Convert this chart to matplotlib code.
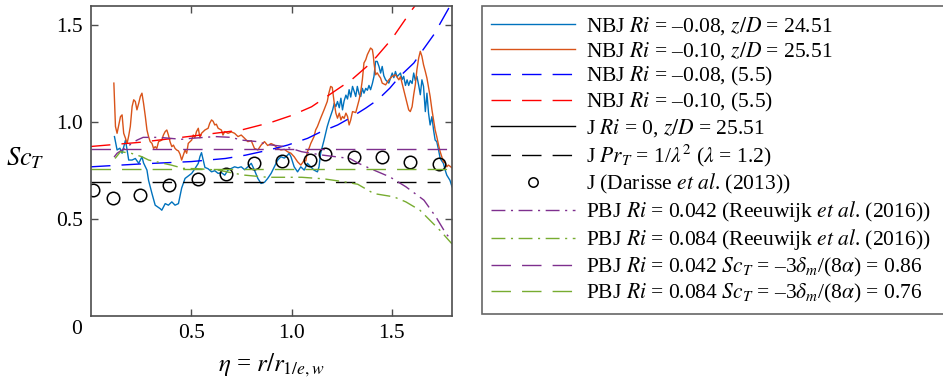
import matplotlib
matplotlib.use('Agg')
import matplotlib.pyplot as plt

plt.rcParams['font.family'] = ['Liberation Serif', 'DejaVu Serif']
plt.rcParams['mathtext.fontset'] = 'stix'

# NBJ Ri = -0.08, z/D = 24.51 (blue solid)
eta_nbj08 = [0.117, 0.130, 0.144, 0.155, 0.172, 0.188, 0.205, 0.221, 0.238, 0.254, 0.262, 0.279,
             0.287, 0.304, 0.320, 0.345, 0.353, 0.370, 0.386, 0.403, 0.419, 0.436, 0.452, 0.469,
             0.502, 0.518, 0.535, 0.543, 0.551, 0.568, 0.584, 0.601, 0.617, 0.634, 0.650, 0.667,
             0.683, 0.700, 0.716, 0.733, 0.749, 0.766, 0.782, 0.799, 0.815, 0.832, 0.848, 0.865,
             0.881, 0.898, 0.914, 0.931, 0.947, 0.964, 0.980, 0.988, 0.997, 1.013, 1.030, 1.046,
             1.063, 1.079, 1.096, 1.112, 1.129, 1.137, 1.145, 1.162, 1.178, 1.188, 1.205, 1.213,
             1.221, 1.229, 1.238, 1.246, 1.254, 1.262, 1.271, 1.279, 1.287, 1.295, 1.304, 1.312,
             1.320, 1.328, 1.337, 1.345, 1.353, 1.361, 1.370, 1.378, 1.386, 1.394, 1.403, 1.411,
             1.419, 1.427, 1.436, 1.444, 1.452, 1.460, 1.469, 1.485, 1.502, 1.510, 1.518, 1.526,
             1.543, 1.551, 1.559, 1.568, 1.576, 1.584, 1.592, 1.601, 1.609, 1.617, 1.625, 1.634,
             1.642, 1.650, 1.658, 1.667, 1.675, 1.683, 1.691, 1.700, 1.708, 1.716, 1.724, 1.733,
             1.741, 1.757, 1.766, 1.774, 1.790, 1.800]
sct_nbj08 = [0.926, 0.857, 0.866, 0.840, 0.908, 0.805, 0.805, 0.813, 0.788, 0.822, 0.790, 0.753,
             0.700, 0.632, 0.572, 0.554, 0.546, 0.580, 0.572, 0.589, 0.572, 0.580, 0.660, 0.710,
             0.736, 0.760, 0.788, 0.822, 0.843, 0.767, 0.760, 0.744, 0.750, 0.736, 0.740, 0.727,
             0.753, 0.762, 0.770, 0.765, 0.770, 0.755, 0.770, 0.788, 0.753, 0.710, 0.684, 0.690,
             0.710, 0.736, 0.770, 0.805, 0.822, 0.815, 0.830, 0.840, 0.822, 0.770, 0.744, 0.770,
             0.753, 0.788, 0.770, 0.753, 0.744, 0.770, 0.840, 0.908, 0.978, 1.012, 1.064, 1.098,
             1.081, 1.107, 1.075, 1.124, 1.064, 1.110, 1.140, 1.120, 1.168, 1.130, 1.185, 1.160,
             1.133, 1.185, 1.145, 1.133, 1.175, 1.150, 1.175, 1.165, 1.190, 1.168, 1.200, 1.237,
             1.314, 1.314, 1.288, 1.254, 1.288, 1.240, 1.219, 1.202, 1.254, 1.230, 1.262, 1.235,
             1.254, 1.220, 1.237, 1.190, 1.219, 1.190, 1.215, 1.200, 1.254, 1.215, 1.237, 1.190,
             1.142, 1.219, 1.185, 1.055, 1.150, 1.047, 0.986, 1.029, 0.960, 0.908, 0.900, 0.857,
             0.813, 0.788, 0.753, 0.727, 0.700, 0.667]

# NBJ Ri = -0.10, z/D = 25.51 (orange solid)
eta_nbj10 = [0.114, 0.122, 0.130, 0.139, 0.147, 0.155, 0.163, 0.172, 0.180, 0.188, 0.196, 0.205,
             0.213, 0.221, 0.229, 0.238, 0.246, 0.254, 0.262, 0.271, 0.279, 0.287, 0.295, 0.304,
             0.312, 0.320, 0.328, 0.337, 0.353, 0.361, 0.370, 0.378, 0.386, 0.394, 0.403, 0.411,
             0.419, 0.427, 0.436, 0.444, 0.452, 0.460, 0.469, 0.477, 0.485, 0.502, 0.510, 0.518,
             0.526, 0.535, 0.543, 0.551, 0.568, 0.584, 0.592, 0.601, 0.609, 0.617, 0.625, 0.634,
             0.650, 0.658, 0.667, 0.683, 0.700, 0.716, 0.733, 0.749, 0.766, 0.782, 0.799, 0.815,
             0.832, 0.848, 0.865, 0.881, 0.898, 0.914, 0.931, 0.947, 0.964, 0.980, 0.997, 1.013,
             1.030, 1.046, 1.054, 1.063, 1.071, 1.079, 1.087, 1.096, 1.112, 1.120, 1.129, 1.145,
             1.162, 1.178, 1.186, 1.195, 1.203, 1.213, 1.221, 1.229, 1.238, 1.246, 1.254, 1.262,
             1.271, 1.279, 1.287, 1.295, 1.304, 1.320, 1.328, 1.337, 1.345, 1.353, 1.361, 1.370,
             1.378, 1.394, 1.403, 1.408, 1.411, 1.419, 1.427, 1.436, 1.444, 1.452, 1.469, 1.485,
             1.502, 1.518, 1.535, 1.543, 1.551, 1.559, 1.576, 1.584, 1.592, 1.601, 1.609, 1.617,
             1.625, 1.634, 1.642, 1.650, 1.658, 1.667, 1.675, 1.683, 1.691, 1.700, 1.708, 1.716,
             1.724, 1.733, 1.741, 1.749, 1.757, 1.766, 1.774, 1.782, 1.800]
sct_nbj10 = [1.202, 0.978, 0.943, 0.990, 1.029, 1.038, 0.943, 0.917, 0.891, 0.930, 0.978, 1.081,
             1.116, 1.107, 1.064, 1.098, 1.133, 1.150, 1.098, 1.029, 0.960, 0.926, 0.900, 0.891,
             0.865, 0.874, 0.865, 0.900, 0.908, 0.934, 0.952, 0.960, 0.934, 0.900, 0.874, 0.882,
             0.865, 0.857, 0.852, 0.835, 0.805, 0.830, 0.857, 0.840, 0.891, 0.908, 0.934, 0.920,
             0.952, 0.969, 0.920, 0.943, 0.960, 0.969, 0.995, 1.012, 1.005, 0.986, 0.990, 0.969,
             0.960, 0.934, 0.952, 0.943, 0.950, 0.943, 0.926, 0.934, 0.917, 0.900, 0.905, 0.865,
             0.857, 0.882, 0.900, 0.880, 0.890, 0.882, 0.865, 0.857, 0.860, 0.848, 0.840, 0.822,
             0.796, 0.779, 0.790, 0.805, 0.800, 0.848, 0.865, 0.891, 0.926, 0.960, 0.978, 1.021,
             1.064, 1.107, 1.150, 1.185, 1.180, 1.098, 1.047, 1.021, 1.047, 1.012, 1.030, 1.020,
             1.047, 1.030, 0.986, 1.012, 1.055, 1.050, 1.081, 1.116, 1.159, 1.219, 1.306, 1.323,
             1.349, 1.383, 1.375, 1.340, 1.306, 1.245, 1.255, 1.240, 1.228, 1.202, 1.193, 1.219,
             1.237, 1.245, 1.219, 1.235, 1.202, 1.168, 1.098, 1.064, 1.055, 1.080, 1.142, 1.193,
             1.271, 1.332, 1.366, 1.340, 1.297, 1.262, 1.228, 1.180, 1.133, 1.064, 1.012, 0.960,
             0.926, 0.882, 0.848, 0.822, 0.796, 0.790, 0.770, 0.779, 0.765]

# model (5.5) curves
eta_fit08 = [0.0, 0.25, 0.5, 0.67, 0.77, 0.88, 0.98, 1.08, 1.145, 1.23, 1.29, 1.37, 1.43,
             1.49, 1.54, 1.61, 1.65, 1.71, 1.79]
sct_fit08 = [0.770, 0.785, 0.797, 0.813, 0.830, 0.855, 0.882, 0.917, 0.950, 0.986, 1.021,
             1.073, 1.116, 1.176, 1.237, 1.306, 1.366, 1.453, 1.600]
eta_fit10 = [0.0, 0.25, 0.5, 0.75, 0.9, 1.0, 1.1, 1.2, 1.3, 1.4, 1.5, 1.6, 1.615]
sct_fit10 = [0.875, 0.897, 0.928, 0.960, 1.000, 1.035, 1.080, 1.150, 1.220, 1.310, 1.430,
             1.580, 1.600]

# J: Darisse et al. (2013)
eta_darisse = [0.012, 0.109, 0.246, 0.391, 0.533, 0.672, 0.812, 0.954, 1.094, 1.165, 1.309,
               1.452, 1.592, 1.734]
sct_darisse = [0.648, 0.608, 0.623, 0.675, 0.708, 0.732, 0.788, 0.801, 0.805, 0.834, 0.822,
               0.822, 0.793, 0.784]

# PBJ, van Reeuwijk et al. (2016)
eta_pbj042 = [0.115, 0.13, 0.23, 0.26, 0.34, 0.45, 0.50, 0.62, 0.70, 0.75, 0.83, 0.88, 0.97,
              1.05, 1.15, 1.29, 1.33, 1.39, 1.49, 1.57, 1.66, 1.72, 1.77, 1.80]
sct_pbj042 = [0.820, 0.840, 0.908, 0.922, 0.922, 0.912, 0.917, 0.926, 0.922, 0.908, 0.900,
              0.885, 0.874, 0.848, 0.831, 0.813, 0.790, 0.762, 0.718, 0.667, 0.598, 0.511,
              0.425, 0.390]
eta_pbj084 = [0.12, 0.147, 0.20, 0.254, 0.287, 0.40, 0.46, 0.535, 0.634, 0.716, 0.766, 0.88,
              1.05, 1.16, 1.26, 1.33, 1.41, 1.51, 1.57, 1.64, 1.69, 1.74, 1.80]
sct_pbj084 = [0.813, 0.848, 0.840, 0.822, 0.805, 0.779, 0.762, 0.760, 0.753, 0.736, 0.727,
              0.716, 0.716, 0.708, 0.693, 0.680, 0.632, 0.615, 0.589, 0.546, 0.494, 0.442,
              0.372]

# constant values
eta_prt = [0.0, 1.74]
sct_prt = [0.694, 0.694]
eta_sc042 = [0.0, 1.80]
sct_sc042 = [0.86, 0.86]
eta_sc084 = [0.0, 1.78]
sct_sc084 = [0.76, 0.76]

labels = [
    r'NBJ $Ri$ = –0.08, $z/D$ = 24.51',
    r'NBJ $Ri$ = –0.10, $z/D$ = 25.51',
    r'NBJ $Ri$ = –0.08, (5.5)',
    r'NBJ $Ri$ = –0.10, (5.5)',
    r'J $Ri$ = 0, $z/D$ = 25.51',
    r'J $Pr_T$ = 1/$\lambda^2$ ($\lambda$ = 1.2)',
    r'J (Darisse $et\ al$. (2013))',
    r'PBJ $Ri$ = 0.042 (Reeuwijk $et\ al$. (2016))',
    r'PBJ $Ri$ = 0.084 (Reeuwijk $et\ al$. (2016))',
    r'PBJ $Ri$ = 0.042 $Sc_T$ = –3$\delta_m$/(8$\alpha$) = 0.86',
    r'PBJ $Ri$ = 0.084 $Sc_T$ = –3$\delta_m$/(8$\alpha$) = 0.76',
]

fig = plt.figure(figsize=(9.43, 3.85), dpi=100)
ax = fig.add_axes([91 / 943, 1 - 316 / 385, (452 - 91) / 943, (316 - 6) / 385])

lw = 1.0
dash = (14, 8)
dashdot = (10, 4, 1.5, 4)
h = []
h += ax.plot(eta_nbj08, sct_nbj08, '-', color='#0072BD', lw=lw)
h += ax.plot(eta_nbj10, sct_nbj10, '-', color='#D95319', lw=lw)
h += ax.plot(eta_fit08, sct_fit08, color='#0000FF', lw=lw, dashes=dash)
h += ax.plot(eta_fit10, sct_fit10, color='#FF0000', lw=lw, dashes=dash)
h += ax.plot([], [], '-', color='k', lw=lw)
h += ax.plot(eta_prt, sct_prt, color='k', lw=lw, dashes=dash)
h += ax.plot(eta_darisse, sct_darisse, 'o', mfc='none', mec='k', ms=9, mew=1.1)
h += ax.plot(eta_pbj042, sct_pbj042, color='#7E2F8E', lw=lw, dashes=dashdot)
h += ax.plot(eta_pbj084, sct_pbj084, color='#77AC30', lw=lw, dashes=dashdot)
h += ax.plot(eta_sc042, sct_sc042, color='#7E2F8E', lw=lw, dashes=dash)
h += ax.plot(eta_sc084, sct_sc084, color='#77AC30', lw=lw, dashes=dash)

ax.set_xlim(0, 1.8)
ax.set_ylim(0, 1.6)
ax.set_xticks([0.5, 1.0, 1.5])
ax.set_xticklabels(['0.5', '1.0', '1.5'])
ax.set_yticks([0.5, 1.0, 1.5])
ax.set_yticklabels(['0.5', '1.0', '1.5'])
ax.tick_params(direction='in', top=True, right=True, length=5, width=1.0,
               labelsize=15.5, color='0.3', pad=6)
for s in ax.spines.values():
    s.set_color('0.3')
    s.set_linewidth(1.2)

fig.text(77 / 943, 1 - 330 / 385, '0', fontsize=15.5, ha='center', va='center')
fig.text(271 / 943, 1 - 365 / 385, r'$\eta$ = $r/r_{1/e,w}$', fontsize=18,
         ha='center', va='center')
fig.text(25 / 943, 1 - 158 / 385, r'$Sc_T$', fontsize=19, ha='center', va='center')

leg = fig.legend(h, labels, loc='upper left', bbox_to_anchor=(482 / 943, 1 - 6 / 385, 0.5, 0.0),
                 mode='expand', fontsize=15.5, frameon=True, fancybox=False,
                 handlelength=3.9, handletextpad=0.55, borderpad=0.4,
                 labelspacing=0.15, borderaxespad=0.0, markerscale=0.75)
leg.get_frame().set_edgecolor('0.25')
leg.get_frame().set_linewidth(1.2)

fig.savefig('out.png', dpi=100)
